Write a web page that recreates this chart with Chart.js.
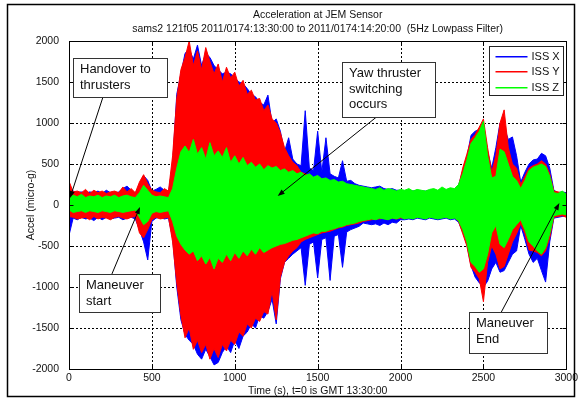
<!DOCTYPE html>
<html>
<head>
<meta charset="utf-8">
<script src="https://cdn.jsdelivr.net/npm/chart.js@4.4.0/dist/chart.umd.min.js"></script>
<style>
  html, body { margin: 0; padding: 0; background: #fff; }
  canvas { display: block; }
</style>
</head>
<body>
<canvas id="chart" width="581" height="399"></canvas>
<script>
// time axis, one envelope sample every 25 s
const times = [
  0, 25, 50, 75, 100, 125, 150, 175, 200, 225,
  250, 275, 300, 325, 350, 375, 400, 425, 450, 475,
  500, 525, 550, 575, 600, 625, 650, 675, 700, 725,
  750, 775, 800, 825, 850, 875, 900, 925, 950, 975,
  1000, 1025, 1050, 1075, 1100, 1125, 1150, 1175, 1200, 1225,
  1250, 1275, 1300, 1325, 1350, 1375, 1400, 1425, 1450, 1475,
  1500, 1525, 1550, 1575, 1600, 1625, 1650, 1675, 1700, 1725,
  1750, 1775, 1800, 1825, 1850, 1875, 1900, 1925, 1950, 1975,
  2000, 2025, 2050, 2075, 2100, 2125, 2150, 2175, 2200, 2225,
  2250, 2275, 2300, 2325, 2350, 2375, 2400, 2425, 2450, 2475,
  2500, 2525, 2550, 2575, 2600, 2625, 2650, 2675, 2700, 2725,
  2750, 2775, 2800, 2825, 2850, 2875, 2900, 2925, 2950, 2975,
  3000
];

// ISS X (blue) upper / lower envelope, micro-g
const issXHigh = [
  150, 170, 150, 160, 140, 160, 150, 170, 140, 180,
  150, 140, 160, 200, 230, 180, 140, 250, 360, 300,
  170, 190, 220, 180, 150, 500, 1350, 1600, 1850, 1900,
  1780, 1950, 1700, 1850, 1800, 1700, 1650, 1600, 1620, 1600,
  1550, 1500, 1480, 1420, 1350, 1320, 1250, 1220, 1340, 1000,
  1050, 900, 650, 820, 560, 500, 480, 1150, 450, 420,
  900, 400, 820, 380, 350, 330, 540, 290, 300, 260,
  240, 230, 220, 210, 220, 230, 200, 190, 200, 180,
  180, 170, 180, 170, 180, 170, 170, 180, 190, 170,
  200, 180, 200, 190, 240, 420, 580, 850, 900, 920,
  980, 650, 450, 700, 1000, 950, 800, 830, 600, 280,
  400, 500, 550, 560, 630, 600, 450, 180, 150, 160,
  150
];
const issXLow = [
  -370, -160, -180, -150, -170, -160, -190, -150, -180, -150,
  -170, -160, -150, -180, -160, -150, -170, -300, -450, -670,
  -200, -160, -150, -170, -160, -400, -1000, -1400, -1580, -1650,
  -1700, -1820, -1880, -1760, -1850, -1950, -1920, -1800, -1720, -1800,
  -1650, -1750, -1600, -1550, -1450, -1500, -1350, -1380, -1300, -1150,
  -1450, -900, -700, -650, -600, -560, -520, -980, -480, -450,
  -890, -420, -400, -920, -380, -360, -760, -330, -300, -280,
  -260, -220, -230, -240, -230, -250, -220, -240, -210, -220,
  -180, -180, -170, -180, -160, -170, -180, -160, -170, -180,
  -170, -160, -180, -170, -210, -330, -480, -740, -880, -950,
  -1000, -930, -780, -700, -820, -800, -700, -600, -560, -250,
  -420, -600, -700, -650, -800, -940, -450, -160, -150, -140,
  -130
];

// ISS Y (red)
const issYHigh = [
  290, 160, 170, 150, 190, 140, 180, 150, 170, 140,
  160, 170, 150, 220, 160, 200, 150, 280, 370, 260,
  180, 160, 150, 200, 170, 600, 1300, 1650, 1800, 2000,
  1700, 1880, 1650, 1920, 1750, 1600, 1720, 1500, 1680, 1550,
  1620, 1450, 1520, 1350, 1400, 1280, 1300, 1150, 1220, 1050,
  1000, 880, 700, 600, 520, 480, 400, 380, 350, 330,
  320, 300, 300, 280, 260, 250, 240, 230, 220, 210,
  200, 190, 190, 180, 170, 180, 170, 180, 170, 160,
  170, 160, 170, 160, 170, 160, 150, 160, 170, 160,
  180, 170, 180, 170, 230, 450, 620, 800, 860, 950,
  1050, 700, 400, 600, 1000, 1160, 700, 500, 450, 250,
  350, 450, 480, 500, 540, 500, 380, 170, 160, 150,
  140
];
const issYLow = [
  -140, -150, -170, -160, -150, -180, -140, -170, -150, -160,
  -180, -150, -140, -160, -170, -150, -140, -340, -400, -300,
  -180, -150, -170, -160, -150, -450, -950, -1350, -1620, -1500,
  -1760, -1650, -1800, -1700, -1880, -1750, -1860, -1700, -1780, -1650,
  -1700, -1550, -1600, -1450, -1500, -1380, -1420, -1300, -1330, -1050,
  -1400, -880, -700, -620, -560, -520, -450, -420, -400, -380,
  -360, -340, -330, -320, -300, -280, -270, -250, -240, -230,
  -220, -200, -190, -180, -170, -170, -160, -170, -160, -170,
  -160, -160, -150, -160, -150, -150, -160, -150, -150, -160,
  -150, -150, -160, -150, -200, -350, -500, -760, -820, -900,
  -1180, -700, -500, -600, -780, -750, -600, -450, -350, -230,
  -350, -550, -560, -580, -620, -560, -400, -150, -140, -130,
  -150
];

// ISS Z (green)
const issZHigh = [
  80, 120, 100, 130, 90, 110, 100, 120, 90, 110,
  100, 120, 90, 110, 120, 100, 90, 150, 240, 180,
  120, 100, 110, 100, 90, 200, 450, 650, 720, 640,
  800, 620, 700, 560, 760, 600, 660, 580, 700, 520,
  600, 500, 580, 480, 520, 460, 500, 430, 480, 450,
  470, 420, 440, 400, 420, 380, 400, 360, 380, 340,
  360, 320, 330, 300, 310, 280, 290, 260, 250, 240,
  230, 220, 210, 200, 190, 210, 180, 200, 190, 170,
  190, 180, 200, 170, 190, 180, 170, 190, 200, 180,
  220, 190, 210, 200, 250, 380, 550, 750, 820, 900,
  1020, 600, 330, 350, 680, 650, 500, 350, 300, 200,
  300, 420, 460, 480, 500, 470, 350, 150, 140, 170,
  130
];
const issZLow = [
  -60, -90, -80, -70, -90, -70, -80, -90, -70, -80,
  -90, -70, -80, -90, -80, -70, -60, -150, -240, -200,
  -100, -80, -90, -80, -70, -200, -380, -480, -550, -600,
  -560, -680, -620, -720, -640, -780, -650, -700, -600, -680,
  -580, -650, -560, -620, -540, -600, -520, -580, -550, -520,
  -500, -480, -470, -450, -430, -420, -400, -380, -360, -340,
  -350, -320, -320, -300, -290, -270, -260, -240, -230, -220,
  -200, -190, -180, -170, -180, -160, -170, -180, -160, -170,
  -150, -170, -160, -170, -150, -160, -170, -150, -160, -170,
  -160, -150, -170, -160, -190, -300, -450, -700, -750, -820,
  -780, -600, -340, -250, -480, -520, -420, -300, -240, -180,
  -300, -450, -500, -560, -600, -520, -350, -130, -120, -110,
  -120
];

const seriesNames = ['ISS X', 'ISS Y', 'ISS Z'];
const seriesColors = ['#0000ff', '#ff0000', '#00ff00'];

const xTicks = [0, 500, 1000, 1500, 2000, 2500, 3000];
const yTicks = [-2000, -1500, -1000, -500, 0, 500, 1000, 1500, 2000];

const titleLines = [
  'Acceleration at JEM Sensor',
  'sams2 121f05 2011/0174:13:30:00 to 2011/0174:14:20:00  (5Hz Lowpass Filter)'
];
const xTitle = 'Time (s), t=0 is GMT 13:30:00';
const yTitle = 'Accel (micro-g)';

// text boxes: box = [t0, v0, t1, v1], arrow from -> to, all in data units
const notes = [
  { lines: ['Handover to', 'thrusters'], box: [24, 1793, 590, 1317], from: [205, 1317], to: [6, 85] },
  { lines: ['Maneuver', 'start'], box: [60, -841, 548, -1305], from: [259, -841], to: [428, -24] },
  { lines: ['Yaw thruster', 'switching', 'occurs'], box: [1645, 1744, 2205, 1073], from: [1855, 1073], to: [1259, 110] },
  { lines: ['Maneuver', 'End'], box: [2410, -1305, 2886, -1805], from: [2608, -1305], to: [2958, 24] }
];

const FONT = '"Liberation Sans", Arial, Helvetica, sans-serif';

function toPoints(values) {
  return values.map((v, i) => ({ x: times[i], y: v }));
}

function envelope(idx, high, low) {
  const color = seriesColors[idx];
  return [
    {
      label: seriesNames[idx],
      data: toPoints(high),
      borderColor: color,
      backgroundColor: color,
      borderWidth: 1,
      pointRadius: 0,
      fill: '+1'
    },
    {
      label: seriesNames[idx] + ' low',
      data: toPoints(low),
      borderColor: color,
      borderWidth: 1,
      pointRadius: 0,
      fill: false
    }
  ];
}

// index 0 is painted last, so green goes first to sit on top
const datasets = [
  ...envelope(2, issZHigh, issZLow),
  ...envelope(1, issYHigh, issYLow),
  ...envelope(0, issXHigh, issXLow)
];

function drawArrow(ctx, x1, y1, x2, y2) {
  const ang = Math.atan2(y2 - y1, x2 - x1);
  const len = 7, half = 2.6;
  ctx.beginPath();
  ctx.moveTo(x1, y1);
  ctx.lineTo(x2 - Math.cos(ang) * len * 0.8, y2 - Math.sin(ang) * len * 0.8);
  ctx.stroke();
  ctx.beginPath();
  ctx.moveTo(x2, y2);
  ctx.lineTo(x2 - Math.cos(ang) * len - Math.sin(ang) * half, y2 - Math.sin(ang) * len + Math.cos(ang) * half);
  ctx.lineTo(x2 - Math.cos(ang) * len + Math.sin(ang) * half, y2 - Math.sin(ang) * len - Math.cos(ang) * half);
  ctx.closePath();
  ctx.fill();
}

// dotted matlab-style grid at the scales' ticks; painted after the data
// but only on still-white pixels, so it reads as lying underneath
const dottedGrid = {
  id: 'dottedGrid',
  afterDatasetsDraw(chart) {
    const ctx = chart.ctx;
    const area = chart.chartArea;
    const xs = chart.scales.x;
    const ys = chart.scales.y;
    const W = chart.width, H = chart.height;
    const img = ctx.getImageData(0, 0, W, H).data;
    const isWhite = (x, y) => {
      const k = (y * W + x) * 4;
      return img[k + 3] < 20 || (img[k] > 235 && img[k + 1] > 235 && img[k + 2] > 235);
    };
    const top = Math.round(area.top), bottom = Math.round(area.bottom);
    const left = Math.round(area.left), right = Math.round(area.right);
    ctx.save();
    ctx.fillStyle = '#000';
    xs.ticks.forEach(t => {
      const px = Math.round(xs.getPixelForValue(t.value));
      for (let y = top; y < bottom; y++) {
        if (y % 4 < 2 && isWhite(px, y)) ctx.fillRect(px, y, 1, 1);
      }
    });
    ys.ticks.forEach(t => {
      const py = Math.round(ys.getPixelForValue(t.value));
      for (let x = left; x < right; x++) {
        if (x % 4 < 2 && isWhite(x, py)) ctx.fillRect(x, py, 1, 1);
      }
    });
    ctx.restore();
  }
};

const matlabDecor = {
  id: 'matlabDecor',
  afterDraw(chart) {
    const ctx = chart.ctx;
    const area = chart.chartArea;
    const xs = chart.scales.x;
    const ys = chart.scales.y;
    const cx = (area.left + area.right) / 2;

    ctx.save();

    // axes box with small inward ticks
    ctx.strokeStyle = '#000';
    ctx.lineWidth = 1;
    const L = Math.round(area.left) + 0.5, T = Math.round(area.top) + 0.5;
    const R = Math.round(area.right) + 0.5, B = Math.round(area.bottom) + 0.5;
    ctx.strokeRect(L, T, R - L, B - T);
    ctx.beginPath();
    xs.ticks.forEach(t => {
      const px = Math.round(xs.getPixelForValue(t.value)) + 0.5;
      ctx.moveTo(px, B); ctx.lineTo(px, B - 4);
      ctx.moveTo(px, T); ctx.lineTo(px, T + 4);
    });
    ys.ticks.forEach(t => {
      const py = Math.round(ys.getPixelForValue(t.value)) + 0.5;
      ctx.moveTo(L, py); ctx.lineTo(L + 4, py);
      ctx.moveTo(R, py); ctx.lineTo(R - 4, py);
    });
    ctx.stroke();

    // titles
    ctx.fillStyle = '#111';
    ctx.textAlign = 'center';
    ctx.textBaseline = 'middle';
    ctx.font = '10.5px ' + FONT;
    ctx.fillText(titleLines[0], cx, 15);
    ctx.fillText(titleLines[1], cx, 29);
    ctx.fillText(xTitle, cx, 391);
    ctx.save();
    ctx.translate(31, (area.top + area.bottom) / 2);
    ctx.rotate(-Math.PI / 2);
    ctx.fillText(yTitle, 0, 0);
    ctx.restore();

    // annotations
    ctx.font = '13px ' + FONT;
    ctx.textAlign = 'left';
    notes.forEach(n => {
      const x0 = Math.round(xs.getPixelForValue(n.box[0])) + 0.5;
      const y0 = Math.round(ys.getPixelForValue(n.box[1])) + 0.5;
      const x1 = Math.round(xs.getPixelForValue(n.box[2])) + 0.5;
      const y1 = Math.round(ys.getPixelForValue(n.box[3])) + 0.5;
      ctx.strokeStyle = '#000';
      ctx.fillStyle = '#000';
      ctx.lineWidth = 1;
      drawArrow(ctx,
        xs.getPixelForValue(n.from[0]), ys.getPixelForValue(n.from[1]),
        xs.getPixelForValue(n.to[0]), ys.getPixelForValue(n.to[1]));
      ctx.fillStyle = '#fff';
      ctx.fillRect(x0, y0, x1 - x0, y1 - y0);
      ctx.strokeStyle = '#333';
      ctx.strokeRect(x0, y0, x1 - x0, y1 - y0);
      ctx.fillStyle = '#111';
      n.lines.forEach((line, k) => {
        ctx.fillText(line, x0 + 6.5, y0 + 11 + k * 15.5);
      });
    });

    // legend
    const lx = 489.5, ly = 46.5, lw = 74, lh = 49;
    ctx.fillStyle = '#fff';
    ctx.fillRect(lx, ly, lw, lh);
    ctx.strokeStyle = '#222';
    ctx.strokeRect(lx, ly, lw, lh);
    ctx.font = '11px ' + FONT;
    seriesNames.forEach((name, k) => {
      const yy = Math.round(ly + 9 + k * 15.5);
      ctx.fillStyle = seriesColors[k];
      ctx.fillRect(lx + 6, yy, 32, 1.5);
      ctx.fillStyle = '#111';
      ctx.fillText(name, lx + 42, yy + 0.5);
    });

    // outer frame of the figure
    ctx.strokeStyle = '#000';
    ctx.lineWidth = 1.5;
    ctx.strokeRect(7.5, 4.5, 567, 392);

    ctx.restore();
  }
};

const tickFormat = v => String(v);

new Chart(document.getElementById('chart').getContext('2d'), {
  type: 'line',
  data: { datasets },
  options: {
    responsive: false,
    animation: false,
    devicePixelRatio: 1,
    layout: { padding: { top: 41, right: 14, left: 0, bottom: 0 } },
    elements: { line: { tension: 0 } },
    plugins: {
      legend: { display: false },
      tooltip: { enabled: false },
      filler: { propagate: false }
    },
    scales: {
      x: {
        type: 'linear',
        min: 0,
        max: 3000,
        afterFit: s => { s.height = 30; },
        afterBuildTicks: s => { s.ticks = xTicks.map(v => ({ value: v })); },
        ticks: { color: '#111', font: { family: FONT, size: 10.5 }, padding: 3, maxRotation: 0, autoSkip: false, callback: tickFormat },
        grid: { display: false, drawTicks: false },
        border: { display: false }
      },
      y: {
        type: 'linear',
        min: -2000,
        max: 2000,
        afterFit: s => { s.width = 69; },
        afterBuildTicks: s => { s.ticks = yTicks.map(v => ({ value: v })); },
        ticks: { color: '#111', font: { family: FONT, size: 10.5 }, padding: 10, autoSkip: false, callback: tickFormat },
        grid: { display: false, drawTicks: false },
        border: { display: false }
      }
    }
  },
  plugins: [dottedGrid, matlabDecor]
});
</script>
</body>
</html>
